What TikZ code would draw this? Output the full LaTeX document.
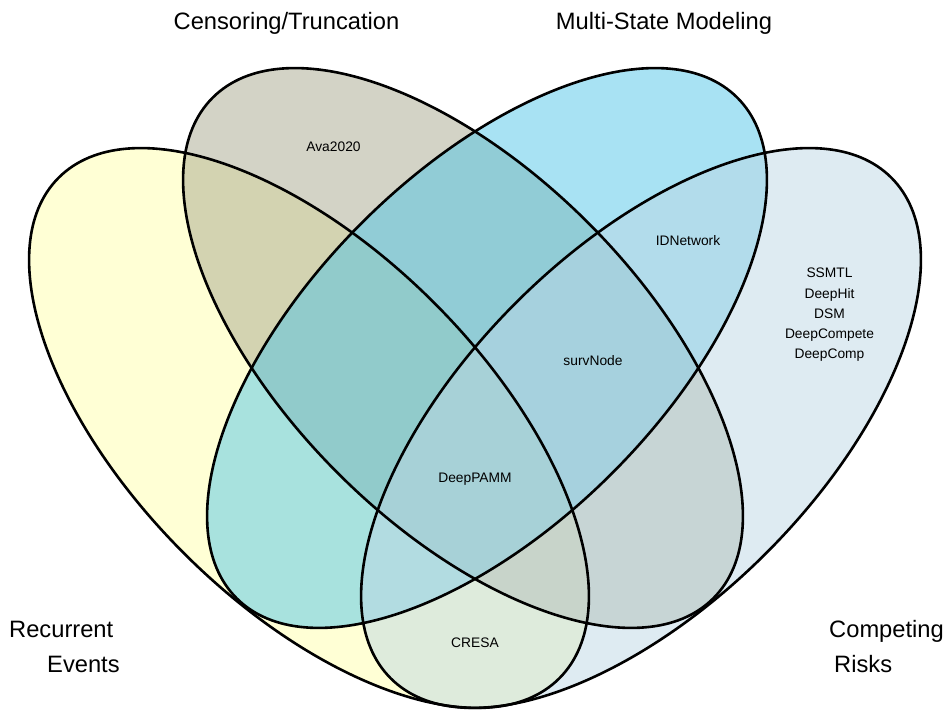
\documentclass[tikz,border=0pt]{standalone}
\usepackage{fontspec}
\setmainfont{Liberation Sans}
\definecolor{recurrent}{HTML}{FFFFAB}
\definecolor{censoring}{HTML}{A7A78D}
\definecolor{multistate}{HTML}{51C5E7}
\definecolor{competing}{HTML}{BDD7E5}
\tikzset{
  set/.style={fill opacity=0.5},
  outline/.style={draw=black, line width=2.6pt},
  oval/.style={x radius=354, y radius=177},
  setlabel/.style={font=\fontsize{23.7}{35}\selectfont, inner sep=0pt},
  itemlabel/.style={font=\fontsize{13.8}{20.3}\selectfont, inner sep=0pt}
}
\begin{document}
\begin{tikzpicture}[x=1pt, y=1pt]
  \useasboundingbox (0,0) rectangle (949,711);
  % fills first, outlines on top
  \fill[recurrent, set]  (309,283) ellipse [oval, rotate=-45];
  \fill[censoring, set]  (463,363) ellipse [oval, rotate=45+90];
  \fill[multistate, set] (487,363) ellipse [oval, rotate=45];
  \fill[competing, set]  (641,283) ellipse [oval, rotate=45];
  \draw[outline] (309,283) ellipse [oval, rotate=-45];
  \draw[outline] (463,363) ellipse [oval, rotate=45+90];
  \draw[outline] (487,363) ellipse [oval, rotate=45];
  \draw[outline] (641,283) ellipse [oval, rotate=45];

  % set names
  \node (cens) [setlabel, anchor=base] at (286.5,681) {Censoring/Truncation};
  \node (multi) [setlabel, anchor=base] at (664,681) {Multi-State Modeling};
  \node (recur) [setlabel, anchor=north west, align=left] at (9,90.5)
        {Recurrent\\\hspace*{38pt}Events};
  \node (compet) [setlabel, anchor=north west, align=left] at (829,90.5)
        {Competing\\\hspace*{5pt}Risks};

  % methods
  \node (ava) [itemlabel, anchor=base] at (333.5,559) {Ava2020};
  \node (idnet) [itemlabel, anchor=base] at (688,465) {IDNetwork};
  \node (surv) [itemlabel, anchor=base] at (593,345) {survNode};
  \node (pamm) [itemlabel, anchor=base] at (475,228) {DeepPAMM};
  \node (cresa) [itemlabel, anchor=base] at (475,63) {CRESA};
  \node (crlist) [itemlabel, align=center] at (829.5,396)
        {SSMTL\\DeepHit\\DSM\\DeepCompete\\DeepComp};
\end{tikzpicture}
\end{document}
